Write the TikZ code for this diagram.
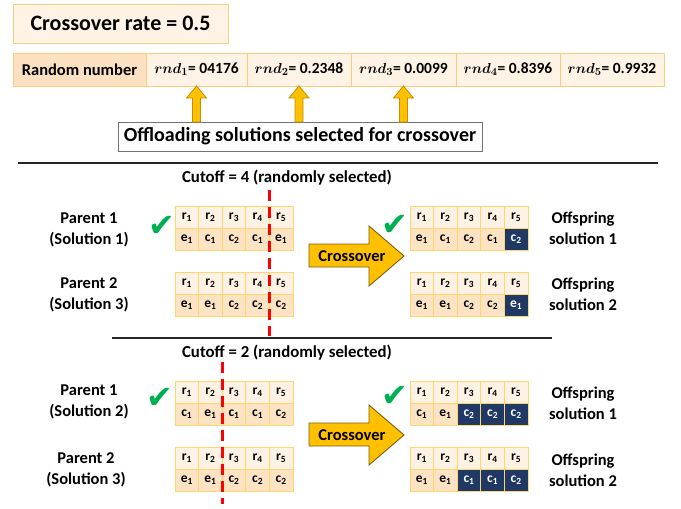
\documentclass[tikz,border=0pt]{standalone}
\usepackage{fontspec}
\setmainfont{Carlito}
\newfontfamily\checkfont{DejaVu Sans}
\usetikzlibrary{calc,positioning}

\definecolor{boxline}{RGB}{250,205,125}
\definecolor{boxfill}{RGB}{254,243,229}
\definecolor{headfill}{RGB}{251,225,193}
\definecolor{cellline}{RGB}{255,214,110}
\definecolor{rowfill}{RGB}{254,242,228}
\definecolor{genefill}{RGB}{252,227,196}
\definecolor{genedark}{RGB}{31,56,100}
\definecolor{arrowfill}{RGB}{255,192,0}
\definecolor{arrowline}{RGB}{191,144,0}
\definecolor{xoline}{RGB}{120,95,20}
\definecolor{tickgreen}{RGB}{0,176,80}
\definecolor{cutred}{RGB}{255,0,0}
\definecolor{rulegray}{RGB}{38,38,38}

\newcommand{\fs}[1]{\fontsize{#1}{#1}\selectfont}

% one solution: name, left x, top y, genes as letter/index/dark
\newcommand{\chrom}[4]{%
  \foreach \gl/\gi/\dk [count=\k] in {#4}{%
    \node[rcell] (#1-r\k) at ({#2+(\k-0.5)*23.6},{#3+11}) {r\textsubscript{\k}};
    \ifnum\dk=1
      \node[hotcell] (#1-g\k) at ({#2+(\k-0.5)*23.6},{#3+33}) {\gl\textsubscript{\gi}};
    \else
      \node[gcell] (#1-g\k) at ({#2+(\k-0.5)*23.6},{#3+33}) {\gl\textsubscript{\gi}};
    \fi
  }}

% crossover block arrow: name, centre y
\newcommand{\xover}[2]{%
  \coordinate (#1) at (352,#2);
  \draw[xoarr] ($(#1)+(-43,-12)$) -- ++(60,0) -- ++(0,-18) -- ($(#1)+(52,0)$)
    -- ($(#1)+(17,30)$) -- ++(0,-19) -- ++(-60,0) -- cycle;
  \node[xolab] (#1-lab) at (#1) {Crossover};}

\begin{document}
\begin{tikzpicture}[
  x=1pt, y=-1pt,
  every node/.style={inner sep=0pt, outer sep=0pt},
  ratebox/.style={draw=boxline, fill=boxfill, line width=1pt,
    font=\bfseries\fs{22}},
  headcell/.style={draw=boxline, fill=headfill, line width=1pt,
    minimum height=33pt, font=\bfseries\fs{16.5}},
  rndcell/.style={headcell, fill=boxfill, font=\bfseries\boldmath\fs{15.5}},
  selbox/.style={draw=black!55, fill=white, line width=0.8pt,
    minimum width=364pt, minimum height=29pt, font=\bfseries\fs{20}},
  selarr/.style={draw=arrowline, fill=arrowfill, line width=0.8pt},
  xoarr/.style={draw=xoline, fill=arrowfill, line width=0.9pt},
  xolab/.style={font=\bfseries\fs{16.5}},
  rcell/.style={draw=cellline, fill=rowfill, line width=0.8pt,
    minimum width=23.6pt, minimum height=22pt, font=\bfseries\fs{13.5}},
  gcell/.style={rcell, fill=genefill},
  hotcell/.style={rcell, fill=genedark, text=white},
  sollab/.style={align=center, font=\bfseries\fontsize{16.5}{21}\selectfont},
  cutlab/.style={font=\bfseries\fs{16.8}},
  tick/.style={text=tickgreen, font=\checkfont\fs{32}},
  cutline/.style={draw=cutred, line width=3pt, dash pattern=on 11pt off 6pt},
  sepline/.style={draw=rulegray, line width=1.5pt}
]
  \fill[white] (0,0) rectangle (681,509);
  \useasboundingbox (0,0) rectangle (681,509);

  % rate and random numbers
  \node[ratebox, minimum width=215pt, minimum height=39pt, anchor=north west]
    (rate) at (13,4) {Crossover rate = 0.5};
  \node[headcell, minimum width=133pt, anchor=north west] (rndhead) at (13,53) {Random number};
  \node[rndcell, minimum width=101pt, right=0pt of rndhead] (rnd1) {$rnd_1$= 04176};
  \node[rndcell, minimum width=104pt, right=0pt of rnd1] (rnd2) {$rnd_2$= 0.2348};
  \node[rndcell, minimum width=105pt, right=0pt of rnd2] (rnd3) {$rnd_3$= 0.0099};
  \node[rndcell, minimum width=104pt, right=0pt of rnd3] (rnd4) {$rnd_4$= 0.8396};
  \node[rndcell, minimum width=104pt, right=0pt of rnd4] (rnd5) {$rnd_5$= 0.9932};

  \node[selbox] (offload) at (300,136.5) {Offloading solutions selected for crossover};
  \foreach \c in {rnd1,rnd2,rnd3}
    \draw[selarr] (\c.south) -- ++(10,12) -- ++(-6,0)
      -- ($(\c.south |- offload.north)+(4,0)$) -- ++(-8,0)
      -- ($(\c.south)+(-4,12)$) -- ++(-6,0) -- cycle;

  \draw[sepline] (18,163) -- (658,163);
  \draw[sepline] (112,338) -- (552,338);

  % cutoff = 4
  \node[cutlab] (cut4) at (287,178) {Cutoff = 4 (randomly selected)};
  \node[sollab] (pa-lab) at (89,229.5) {Parent 1\\(Solution 1)};
  \node[sollab] (pb-lab) at (89,294.5) {Parent 2\\(Solution 3)};
  \chrom{pa}{175}{206}{e/1/0,c/1/0,c/2/0,c/1/0,e/1/0}
  \chrom{pb}{175}{272}{e/1/0,e/1/0,c/2/0,c/2/0,c/2/0}
  \chrom{oa}{410}{206}{e/1/0,c/1/0,c/2/0,c/1/0,c/2/1}
  \chrom{ob}{410}{272}{e/1/0,e/1/0,c/2/0,c/2/0,e/1/1}
  \node[sollab] (oa-lab) at (583,228) {Offspring\\solution 1};
  \node[sollab] (ob-lab) at (583,294) {Offspring\\solution 2};
  \xover{xo4}{256}
  \node[tick] (tick1) at (162,226) {✔};
  \node[tick] (tick2) at (395,225) {✔};
  \coordinate (cut4top) at (pa-r4.north east |- 0,190);
  \coordinate (cut4bot) at (pa-r4.north east |- 0,336);
  \draw[cutline] (cut4top) -- (cut4bot);

  % cutoff = 2
  \node[cutlab] (cut2) at (287,353) {Cutoff = 2 (randomly selected)};
  \node[sollab] (pc-lab) at (89,402) {Parent 1\\(Solution 2)};
  \node[sollab] (pd-lab) at (86,469.5) {Parent 2\\(Solution 3)};
  \chrom{pc}{175}{381}{c/1/0,e/1/0,c/1/0,c/1/0,c/2/0}
  \chrom{pd}{175}{447}{e/1/0,e/1/0,c/2/0,c/2/0,c/2/0}
  \chrom{oc}{410}{381}{c/1/0,e/1/0,c/2/1,c/2/1,c/2/1}
  \chrom{od}{410}{447}{e/1/0,e/1/0,c/1/1,c/1/1,c/2/1}
  \node[sollab] (oc-lab) at (583,403) {Offspring\\solution 1};
  \node[sollab] (od-lab) at (583,470) {Offspring\\solution 2};
  \xover{xo2}{435}
  \node[tick] (tick3) at (160,398) {✔};
  \node[tick] (tick4) at (395,396) {✔};
  \coordinate (cut2top) at (pc-r2.north east |- 0,362);
  \coordinate (cut2bot) at (pc-r2.north east |- 0,504);
  \draw[cutline] (cut2top) -- (cut2bot);
\end{tikzpicture}
\end{document}
